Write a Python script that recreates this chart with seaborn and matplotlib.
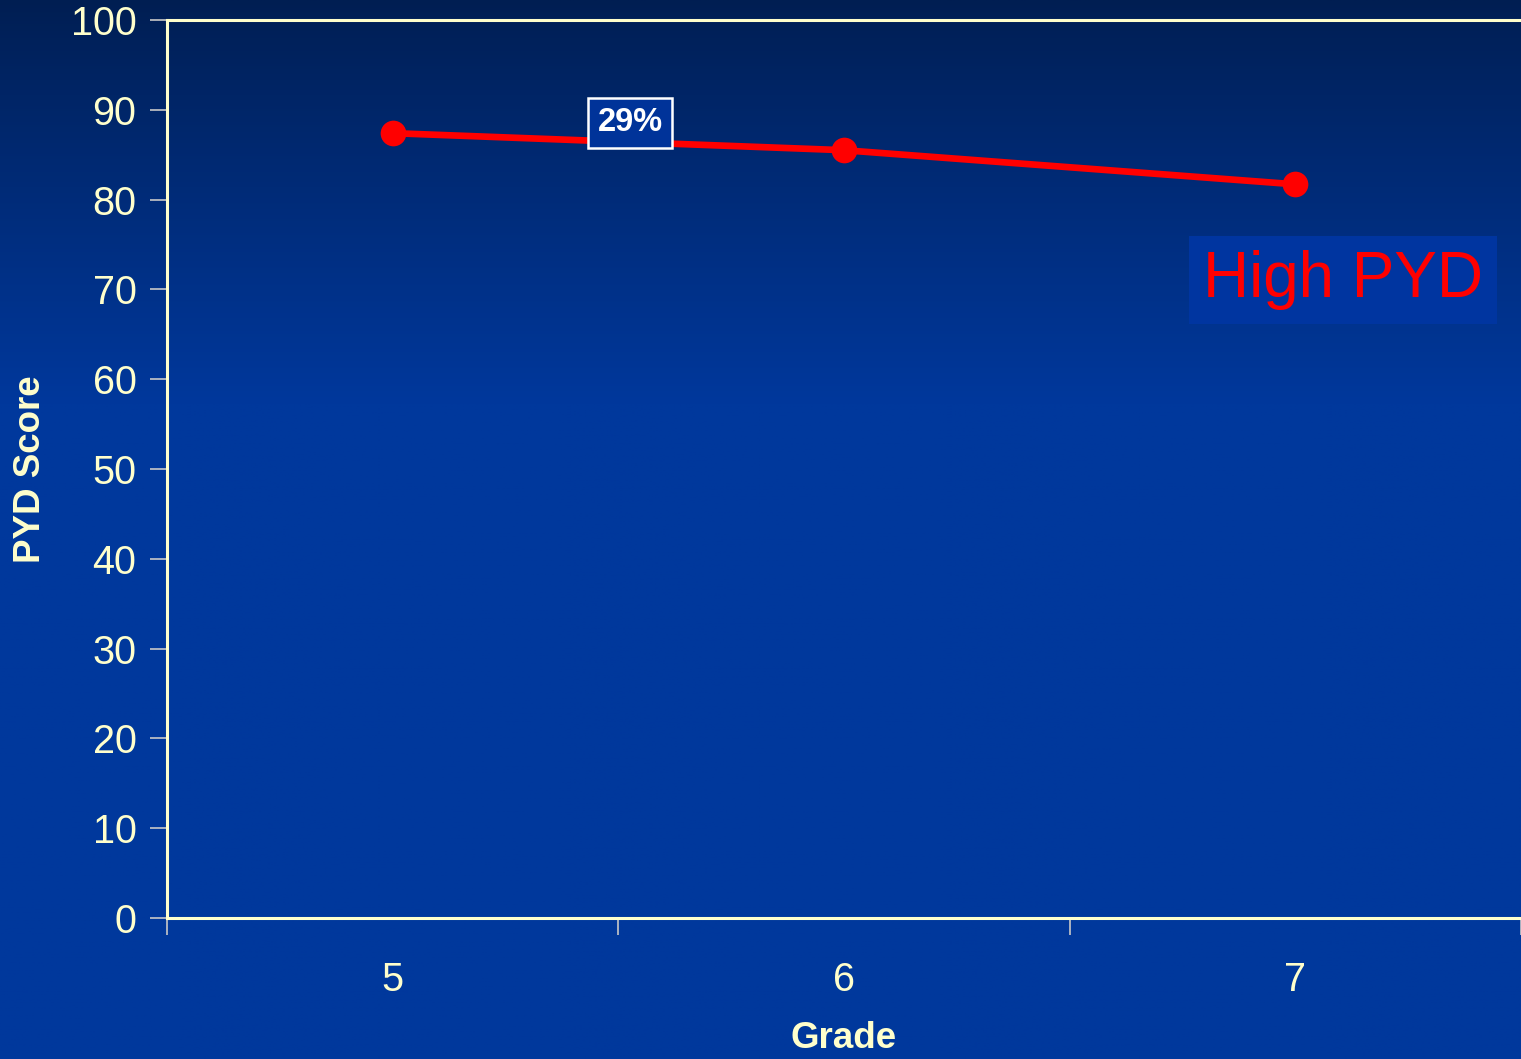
import numpy as np
import pandas as pd
import matplotlib
matplotlib.use("Agg")
import matplotlib.pyplot as plt
import seaborn as sns

grades = [5, 6, 7]
pyd_scores = [87.4, 85.5, 81.7]
y_ticks = [0, 10, 20, 30, 40, 50, 60, 70, 80, 90, 100]
group_label = "High PYD"
change_label = "29%"

sns.set_theme(style="white")
plt.rcParams["font.family"] = ["Liberation Sans", "DejaVu Sans"]

cream = "#FFFFCC"
tick_grey = "#C8C8C8"

fig = plt.figure(figsize=(15.21, 10.59), dpi=100)

# vertical background gradient: dark navy at the top, royal blue lower down
bg = fig.add_axes([0, 0, 1, 1], zorder=-10)
rows = np.linspace(0, 1, 400)
top = np.array([0x00, 0x1E, 0x52]) / 255
bottom = np.array([0x00, 0x38, 0x9C]) / 255
t = np.clip(rows / 0.38, 0, 1) ** 0.9
grad = (top[None, :] * (1 - t[:, None]) + bottom[None, :] * t[:, None])
grad = np.repeat(grad[:, None, :], 4, axis=1)
bg.imshow(grad, aspect="auto", extent=[0, 1, 0, 1], origin="upper")
bg.set_axis_off()

ax = fig.add_axes([167 / 1521, 1 - 918 / 1059, 1 - 167 / 1521, (918 - 20) / 1059])
ax.set_facecolor("none")

df = pd.DataFrame({"Grade": grades, "PYD Score": pyd_scores})
sns.lineplot(data=df, x="Grade", y="PYD Score", ax=ax, color="#FF0000",
             linewidth=4.8, marker="o", markersize=18.5, markeredgewidth=0,
             markeredgecolor="#FF0000", markerfacecolor="#FF0000")

ax.set_xlim(4.5, 7.5)
ax.set_ylim(0, 100)
ax.set_yticks(y_ticks)
ax.set_xticks(grades)
ax.set_xticks([4.5, 5.5, 6.5, 7.5], minor=True)

ax.tick_params(axis="y", which="major", direction="out", length=12, width=1.2,
               color=tick_grey, labelcolor=cream, labelsize=28.5, pad=10, left=True)
ax.tick_params(axis="x", which="major", length=0, labelcolor=cream,
               labelsize=28.5, pad=31, bottom=True)
ax.tick_params(axis="x", which="minor", direction="out", length=12, width=1.2,
               color=tick_grey, bottom=True)

for side in ["left", "bottom", "top"]:
    ax.spines[side].set_visible(True)
    ax.spines[side].set_color(cream)
    ax.spines[side].set_linewidth(2.2)
ax.spines["right"].set_visible(False)

ax.set_xlabel("Grade", color=cream, fontsize=26.5, fontweight="bold", labelpad=16)
ax.set_ylabel("PYD Score", color=cream, fontsize=26.5, fontweight="bold", labelpad=16)

ax.text(5.526, 88.55, change_label, color="white", fontsize=23.5, fontweight="bold",
        ha="center", va="center", zorder=5,
        bbox=dict(boxstyle="square,pad=0.3", facecolor="#003399",
                  edgecolor="white", linewidth=1.8))

ax.text(6.795, 71.0, group_label, color="#FF0000", fontsize=46,
        ha="left", va="center", zorder=5,
        bbox=dict(boxstyle="square,pad=0.22", facecolor="#0035A0",
                  edgecolor="none"))

fig.savefig("out.png", dpi=100)
